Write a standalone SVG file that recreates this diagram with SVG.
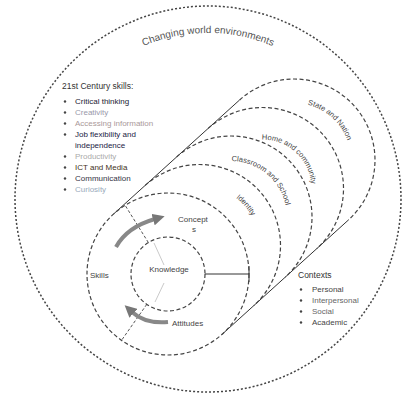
<svg xmlns="http://www.w3.org/2000/svg" width="411" height="398" viewBox="0 0 411 398">
<style>
  text { font-family: "Liberation Sans", Arial, sans-serif; }
  .outer { fill: none; stroke: #444; stroke-width: 1.5; stroke-dasharray: 2 2; }
  .ring { fill: none; stroke: #444; stroke-width: 1.2; stroke-dasharray: 4 2.5; }
  .solid { fill: none; stroke: #333; stroke-width: 1; }
  .div { fill: none; stroke: #555; stroke-width: 1; stroke-dasharray: 3 2; }
  .faint { fill: none; stroke: #bbb; stroke-width: 0.8; }
  .arrow { fill: none; stroke: #888; stroke-width: 4; }
  .lbl { font-size: 8px; fill: #444; }
  .ringlbl { font-size: 7.5px; fill: #444; }
  .li { font-size: 8px; }
  .bul { fill: #444; }
</style>
<defs>
  <marker id="ah" markerUnits="userSpaceOnUse" markerWidth="12" markerHeight="12" refX="2" refY="6" orient="auto">
    <path d="M0,0 L12,6 L0,12 z" fill="#777"/>
  </marker>
  <path id="topArc" d="M112.8,63 A166,166 0 0 1 303.2,63"/>
  <path id="p1" d="M171.3,192.5 A60,60 0 0 1 255.1,268"/>
  <path id="p2" d="M204.7,167.6 A56,56 0 0 1 282.9,238"/>
  <path id="p3" d="M239.5,145.2 A49,49 0 0 1 307.9,206.9"/>
  <path id="p4" d="M267.2,109.7 A57,57 0 0 1 346.8,181.4"/>
</defs>

<g id="outer-circle">
  <circle class="outer" cx="208" cy="199" r="193"/>
  <text font-size="10" fill="#555" text-anchor="middle"><textPath href="#topArc" startOffset="50%">Changing world environments</textPath></text>
</g>

<g id="skills-list">
  <text x="62" y="89" font-size="8.5" fill="#333">21st Century skills:</text>
  <g class="bul">
    <circle cx="65" cy="101.5" r="1.2"/>
    <circle cx="65" cy="112.5" r="1.2"/>
    <circle cx="65" cy="123.5" r="1.2"/>
    <circle cx="65" cy="134.5" r="1.2"/>
    <circle cx="65" cy="156.5" r="1.2"/>
    <circle cx="65" cy="167.5" r="1.2"/>
    <circle cx="65" cy="178.5" r="1.2"/>
    <circle cx="65" cy="189.5" r="1.2"/>
  </g>
  <text class="li" x="75" y="104" fill="#223">Critical thinking</text>
  <text class="li" x="75" y="115" fill="#99a">Creativity</text>
  <text class="li" x="75" y="126" fill="#a99">Accessing information</text>
  <text class="li" x="75" y="137" fill="#224">Job flexibility and</text>
  <text class="li" x="75" y="148" fill="#224">independence</text>
  <text class="li" x="75" y="159" fill="#aaa">Productivity</text>
  <text class="li" x="75" y="170" fill="#432">ICT and Media</text>
  <text class="li" x="75" y="181" fill="#334">Communication</text>
  <text class="li" x="75" y="192" fill="#9ab">Curiosity</text>
</g>

<g id="contexts-list">
  <text x="298" y="278" font-size="8.5" fill="#333">Contexts</text>
  <g class="bul">
    <circle cx="301" cy="289.5" r="1.2"/>
    <circle cx="301" cy="300.5" r="1.2"/>
    <circle cx="301" cy="311.5" r="1.2"/>
    <circle cx="301" cy="322.5" r="1.2"/>
  </g>
  <text class="li" x="312" y="292" fill="#444">Personal</text>
  <text class="li" x="312" y="303" fill="#666">Interpersonal</text>
  <text class="li" x="312" y="314" fill="#666">Social</text>
  <text class="li" x="312" y="325" fill="#444">Academic</text>
</g>

<g id="connectors">
  <line class="solid" x1="113.65" y1="213.93" x2="239.65" y2="99.93"/>
  <line class="solid" x1="222.35" y1="334.07" x2="348.35" y2="220.07"/>
  <line class="solid" x1="205" y1="274" x2="249" y2="274"/>
  <line class="solid" x1="249" y1="266" x2="249" y2="282"/>
  <line class="div" x1="148.4" y1="242.6" x2="125.1" y2="205.3"/>
  <line class="div" x1="146.8" y1="304.3" x2="121.5" y2="340.4"/>
  <line class="faint" x1="164" y1="265" x2="154" y2="243"/>
  <line class="faint" x1="164" y1="283" x2="155" y2="302"/>
  <path class="arrow" d="M116,247 Q127,227 155,219" marker-end="url(#ah)"/>
  <path class="arrow" d="M168,322 Q145,324 132,312" marker-end="url(#ah)"/>
</g>

<g id="ring-state-nation">
  <path class="ring" d="M239.65,99.93 A81,81 0 0 1 348.35,220.07"/>
  <text class="ringlbl" text-anchor="middle"><textPath href="#p4" startOffset="50%">State and Nation</textPath></text>
</g>
<g id="ring-home-community">
  <path class="ring" d="M208.15,128.43 A81,81 0 0 1 316.85,248.57"/>
  <text class="ringlbl" text-anchor="middle"><textPath href="#p3" startOffset="50%">Home and community</textPath></text>
</g>
<g id="ring-classroom-school">
  <path class="ring" d="M176.65,156.93 A81,81 0 0 1 285.35,277.07"/>
  <text class="ringlbl" text-anchor="middle"><textPath href="#p2" startOffset="48%">Classroom and School</textPath></text>
</g>
<g id="ring-identity">
  <path class="ring" d="M145.15,185.43 A81,81 0 0 1 253.85,305.57"/>
  <text class="ringlbl" text-anchor="middle"><textPath href="#p1" startOffset="55%">Identity</textPath></text>
</g>

<g id="middle-circle">
  <circle class="ring" cx="168" cy="274" r="81"/>
  <text class="lbl" x="178" y="222">Concept</text>
  <text class="lbl" x="192" y="232">s</text>
  <text class="lbl" x="90" y="278">Skills</text>
  <text class="lbl" x="172" y="326" fill="#888">Attitudes</text>
</g>

<g id="knowledge">
  <circle class="ring" cx="168" cy="274" r="37"/>
  <text class="lbl" x="169" y="272" text-anchor="middle">Knowledge</text>
</g>
</svg>
